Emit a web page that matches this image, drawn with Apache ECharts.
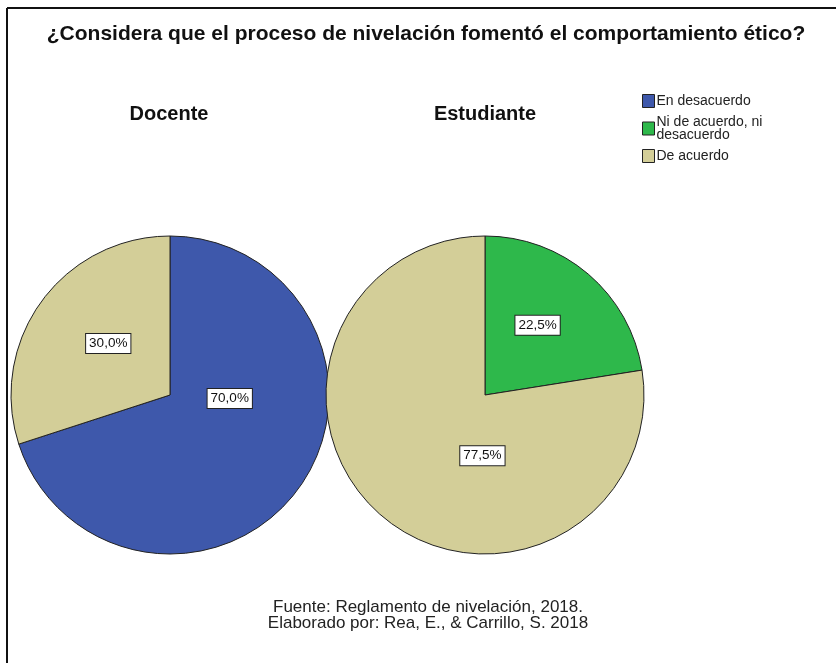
<!DOCTYPE html>
<html>
<head>
<meta charset="utf-8">
<script src="https://cdn.jsdelivr.net/npm/echarts@6/dist/echarts.min.js"></script>
<style>
  html, body { margin: 0; padding: 0; background: #fff; }
  #main { width: 836px; height: 663px; }
</style>
</head>
<body>
<div id="main"></div>
<script>
// datos
var categorias = ['En desacuerdo', 'Ni de acuerdo, ni desacuerdo', 'De acuerdo']
var grupos = ['Docente', 'Estudiante']
var docenteNombres = ['En desacuerdo', 'De acuerdo']
var docenteValores = [70.0, 30.0]
var estudianteNombres = ['Ni de acuerdo, ni desacuerdo', 'De acuerdo']
var estudianteValores = [22.5, 77.5]

var colores = {
  'En desacuerdo': '#3e58ab',
  'Ni de acuerdo, ni desacuerdo': '#2eb84b',
  'De acuerdo': '#d3ce98'
}

// pequeños ajustes de la etiqueta (como los coloca SPSS)
var ajusteEtiqueta = [
  [[-7, -45], [5, -3]],
  [[-1, -7], [51, -2]]
]

function armar (nombres, valores) {
  var out = []
  for (var i = 0; i < nombres.length; i++) {
    out.push({
      name: nombres[i],
      value: valores[i],
      itemStyle: { color: colores[nombres[i]] }
    })
  }
  return out
}

var myChart = echarts.init(document.getElementById('main'), null, { renderer: 'canvas' })

var fuente = 'Liberation Sans, Arial, sans-serif'

var etiqueta = {
  show: true,
  position: 'inside',
  formatter: function (p) {
    return p.value.toFixed(1).replace('.', ',') + '%'
  },
  color: '#111',
  fontFamily: fuente,
  fontSize: 13.5,
  backgroundColor: '#fff',
  borderColor: '#222',
  borderWidth: 1,
  padding: [3, 3, 2, 3]
}

var option = {
  backgroundColor: '#fff',
  animation: false,
  title: [
    {
      text: '¿Considera que el proceso de nivelación fomentó el comportamiento ético?',
      left: 421,
      top: 19,
      textAlign: 'center',
      textStyle: { fontFamily: fuente, fontSize: 21, fontWeight: 'bold', color: '#111' }
    },
    {
      text: grupos[0],
      left: 164,
      top: 99,
      textAlign: 'center',
      textStyle: { fontFamily: fuente, fontSize: 20, fontWeight: 'bold', color: '#111' }
    },
    {
      text: grupos[1],
      left: 480,
      top: 99,
      textAlign: 'center',
      textStyle: { fontFamily: fuente, fontSize: 20, fontWeight: 'bold', color: '#111' }
    },
    {
      text: 'Fuente: Reglamento de nivelación, 2018.\nElaborado por: Rea, E., & Carrillo, S. 2018',
      left: 423,
      top: 594,
      textAlign: 'center',
      textStyle: { fontFamily: fuente, fontSize: 17, fontWeight: 'normal', color: '#222', lineHeight: 16 }
    }
  ],
  legend: {
    data: categorias,
    orient: 'vertical',
    left: 637,
    top: 89,
    itemWidth: 12,
    itemHeight: 13,
    itemGap: 7,
    selectedMode: false,
    icon: 'rect',
    itemStyle: { borderColor: '#222', borderWidth: 1 },
    formatter: function (name) {
      return name === 'Ni de acuerdo, ni desacuerdo' ? 'Ni de acuerdo, ni\ndesacuerdo' : name
    },
    textStyle: {
      fontFamily: fuente,
      fontSize: 14,
      color: '#222',
      lineHeight: 13,
      padding: [0, 0, 0, -3]
    }
  },
  graphic: [
    { type: 'line', shape: { x1: 7, y1: 8, x2: 836, y2: 8 }, style: { stroke: '#111', lineWidth: 2 } },
    { type: 'line', shape: { x1: 7, y1: 8, x2: 7, y2: 663 }, style: { stroke: '#111', lineWidth: 2 } }
  ],
  series: [
    {
      name: grupos[0],
      type: 'pie',
      center: [170, 395],
      radius: 159,
      startAngle: 90,
      clockwise: true,
      silent: true,
      itemStyle: { borderColor: '#222', borderWidth: 1 },
      label: etiqueta,
      labelLine: { show: false },
      labelLayout: function (p) {
        var a = ajusteEtiqueta[0][p.dataIndex]
        return { dx: a[0], dy: a[1] }
      },
      data: armar(docenteNombres, docenteValores)
    },
    {
      name: grupos[1],
      type: 'pie',
      center: [485, 395],
      radius: 159,
      startAngle: 90,
      clockwise: true,
      silent: true,
      itemStyle: { borderColor: '#222', borderWidth: 1 },
      label: etiqueta,
      labelLine: { show: false },
      labelLayout: function (p) {
        var a = ajusteEtiqueta[1][p.dataIndex]
        return { dx: a[0], dy: a[1] }
      },
      data: armar(estudianteNombres, estudianteValores)
    }
  ]
}

myChart.setOption(option)
</script>
</body>
</html>
